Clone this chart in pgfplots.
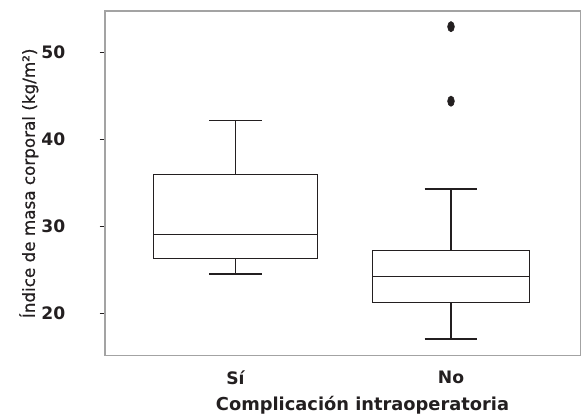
\documentclass[border=0pt]{standalone}
\usepackage{pgfplots}
\pgfplotsset{compat=1.18}
\usepgfplotslibrary{statistics}
\usepackage{fontspec}
\setmainfont{DejaVu Sans}
\newfontfamily\ylabfont[FakeBold=0.7]{DejaVu Sans}
\definecolor{ink}{HTML}{231F20}
\definecolor{framegray}{HTML}{A3A3A3}

\begin{document}
\begin{tikzpicture}
  \begin{axis}[name=ax, scale only axis, width=360pt, height=261.2pt,
      xmin=0.395, xmax=2.6, ymin=15.16, ymax=54.73,
      boxplot/draw direction=y,
      axis line style={framegray, line width=1pt},
      xtick={1,2}, xticklabels={Sí,No},
      xtick style={draw=none},
      ytick={20,30,40,50},
      ytick style={ink, line width=0.9pt},
      tick pos=left,
      tick align=outside, major tick length=4pt,
      ticklabel style={font=\fontsize{13}{16}\selectfont\bfseries, text=ink},
      /pgf/number format/assume math mode=true,
      xticklabel style={yshift=-4pt},
      yticklabel style={xshift=-22.5pt},
      xlabel={Complicación intraoperatoria},
      ylabel={Índice de masa corporal (kg/m²)},
      xlabel style={font=\fontsize{13.5}{16}\selectfont\bfseries, text=ink,
        xshift=15pt, yshift=-2pt},
      ylabel style={font=\fontsize{12.7}{16}\ylabfont, text=ink,
        yshift=-4.5pt}]
    \addplot[ink, line width=1.1pt,
      boxplot prepared={draw position=1, lower whisker=24.54,
        lower quartile=26.33, median=29.05, upper quartile=35.95,
        upper whisker=42.16, box extend=0.76, whisker extend=0.244}]
      coordinates {};
    \addplot[ink, line width=1.1pt,
      boxplot prepared={draw position=2, lower whisker=17.09,
        lower quartile=21.25, median=24.28, upper quartile=27.24,
        upper whisker=34.31, box extend=0.73, whisker extend=0.244}]
      coordinates {};
    % outliers
    \addplot[only marks, mark=*, mark size=3.9pt,
      mark options={fill=ink, draw=ink, xscale=0.66}]
      coordinates {(2,52.92) (2,44.37)};
  \end{axis}
  \path[use as bounding box] ([xshift=-79.5pt, yshift=-47pt]ax.south west)
    rectangle ([xshift=-3pt, yshift=8.25pt]ax.north east);
\end{tikzpicture}
\end{document}
